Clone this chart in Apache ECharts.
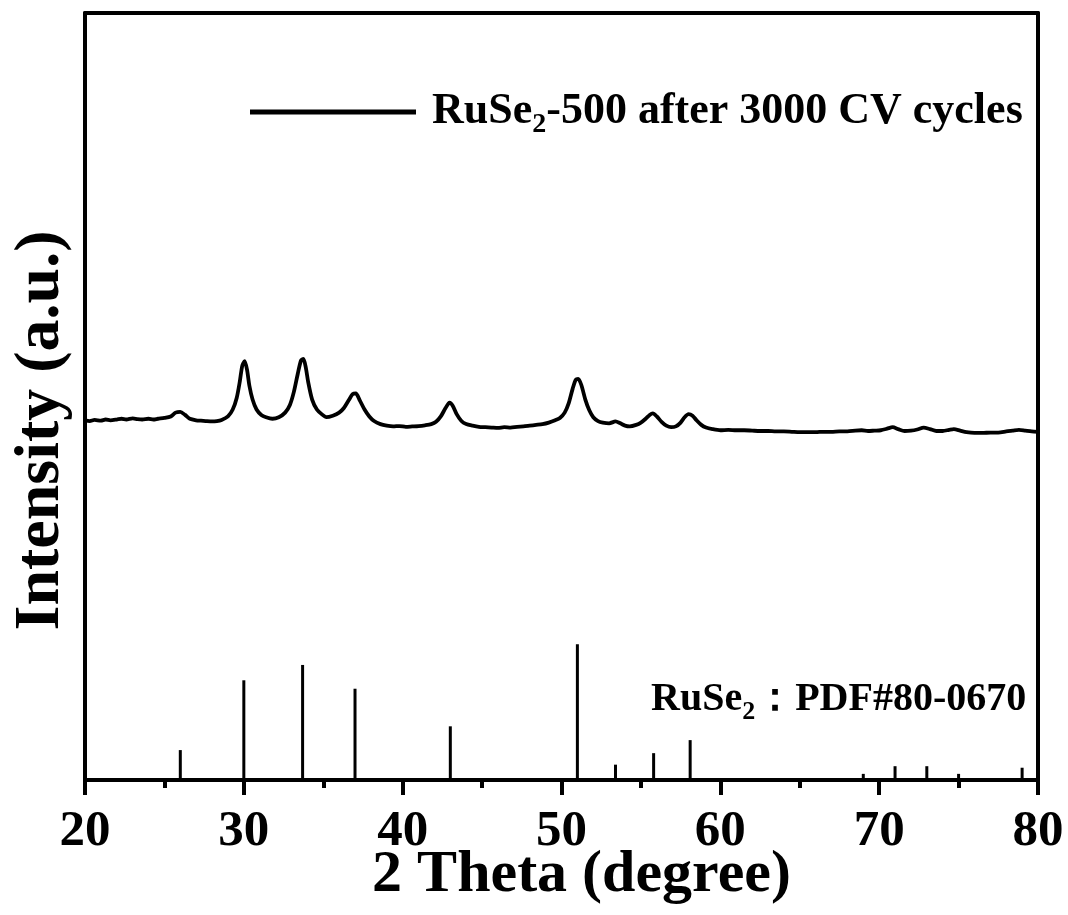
<!DOCTYPE html>
<html>
<head>
<meta charset="utf-8">
<script src="https://cdn.jsdelivr.net/npm/echarts@6/dist/echarts.min.js"></script>
<style>
html,body{margin:0;padding:0;background:#fff;}
#chart{width:1068px;height:915px;}
</style>
</head>
<body>
<div id="chart"></div>
<script>
// XRD pattern of RuSe2-500 after 3000 CV cycles: [2theta, intensity (a.u.)]
var xrdCurve = [
[20.0,46.9],[20.3,46.8],[20.6,46.95],[21.0,46.85],[21.3,47.0],[21.6,46.9],[22.0,47.0],[22.3,47.1],[22.6,47.0],[23.0,47.15],
[23.3,47.05],[23.6,47.0],[24.0,47.1],[24.3,47.0],[24.6,47.1],[25.0,47.2],[25.4,47.4],[25.7,47.9],[26.0,48.0],[26.3,47.6],
[26.6,47.1],[27.0,46.9],[27.3,46.85],[27.6,46.8],[28.0,46.75],[28.3,46.8],[28.6,46.95],[29.0,47.4],[29.3,48.3],[29.55,49.8],
[29.75,52.0],[29.9,54.0],[30.05,54.6],[30.2,53.5],[30.35,51.4],[30.55,49.6],[30.8,48.3],[31.1,47.6],[31.4,47.3],[31.8,47.1],
[32.2,47.3],[32.6,47.9],[32.9,48.9],[33.15,50.6],[33.4,53.0],[33.6,54.7],[33.75,54.9],[33.9,53.8],[34.05,51.9],[34.3,49.6],
[34.6,48.3],[34.9,47.7],[35.2,47.3],[35.6,47.5],[36.0,47.9],[36.3,48.5],[36.6,49.5],[36.85,50.3],[37.05,50.4],[37.3,49.5],
[37.6,48.3],[37.9,47.4],[38.2,46.8],[38.6,46.4],[39.0,46.2],[39.4,46.1],[39.8,46.15],[40.2,46.05],[40.6,46.1],[41.0,46.15],
[41.4,46.25],[41.8,46.4],[42.1,46.7],[42.4,47.4],[42.7,48.5],[42.95,49.2],[43.15,48.8],[43.4,47.7],[43.7,46.8],[44.0,46.4],
[44.4,46.2],[44.8,46.05],[45.2,46.0],[45.6,45.95],[46.0,45.9],[46.4,46.0],[46.8,45.95],[47.2,46.05],[47.6,46.1],[48.0,46.2],
[48.4,46.3],[48.8,46.4],[49.2,46.6],[49.6,46.9],[49.9,47.2],[50.2,47.9],[50.45,49.1],[50.7,51.0],[50.9,52.2],[51.05,52.3],
[51.25,51.5],[51.5,49.6],[51.75,48.2],[52.0,47.3],[52.3,46.8],[52.6,46.6],[53.0,46.5],[53.4,46.75],[53.7,46.5],[54.0,46.2],
[54.3,46.1],[54.7,46.3],[55.0,46.6],[55.3,47.1],[55.55,47.6],[55.75,47.8],[56.0,47.4],[56.3,46.7],[56.6,46.2],[56.9,46.0],
[57.2,46.1],[57.5,46.6],[57.75,47.3],[58.0,47.7],[58.25,47.5],[58.5,46.9],[58.8,46.3],[59.1,45.95],[59.5,45.75],[60.0,45.6],
[60.5,45.65],[61.0,45.6],[61.5,45.6],[62.0,45.55],[62.5,45.5],[63.0,45.5],[63.5,45.45],[64.0,45.45],[64.5,45.4],[65.0,45.35],
[65.5,45.35],[66.0,45.35],[66.5,45.4],[67.0,45.4],[67.5,45.45],[68.0,45.45],[68.5,45.55],[68.9,45.6],[69.3,45.5],[69.7,45.55],
[70.1,45.6],[70.5,45.8],[70.85,46.0],[71.2,45.75],[71.6,45.5],[72.0,45.55],[72.4,45.7],[72.8,45.95],[73.2,45.75],[73.6,45.5],
[74.0,45.5],[74.4,45.65],[74.7,45.75],[75.1,45.55],[75.5,45.35],[76.0,45.25],[76.5,45.25],[77.0,45.3],[77.5,45.3],[78.0,45.45],
[78.4,45.55],[78.8,45.65],[79.2,45.55],[79.6,45.45],[80.0,45.4]
];
// Standard pattern RuSe2 PDF#80-0670: [2theta, relative intensity]
var refPeaks = [
[26.0,3.9],[30.0,13.0],[33.7,15.0],[37.0,11.9],[43.0,7.0],[51.0,17.7],[53.4,2.0],[55.8,3.5],[58.1,5.2],
[69.0,0.8],[71.0,1.8],[73.0,1.8],[75.0,0.8],[79.0,1.6]
];
var xMin = 20, xMax = 80, xInterval = 10;
var yMin = 0, yMax = 100;
var seriesName = 'RuSe2-500 after 3000 CV cycles';
var xName = '2 Theta (degree)';
var yName = 'Intensity (a.u.)';

var FONT = '"Liberation Serif","Times New Roman",serif';
var chart = echarts.init(document.getElementById('chart'), null, {renderer:'canvas'});
var axisLineStyle = {color:'#000', width:4};
chart.setOption({
  backgroundColor:'#fff',
  animation:false,
  grid:{left:85, right:30, top:13, bottom:135, containLabel:false, outerBoundsMode:'none'},
  title:{
    text:'{a|RuSe}{s|2}{a|：PDF#80-0670}',
    left:651, top:675, padding:0,
    textStyle:{
      rich:{
        a:{fontFamily:FONT, fontWeight:'bold', fontSize:40, color:'#000'},
        s:{fontFamily:FONT, fontWeight:'bold', fontSize:26, color:'#000', padding:[24,0,0,0]}
      }
    }
  },
  legend:{
    left:250, top:90, padding:0,
    data:[{name:seriesName, icon:'rect'}],
    itemWidth:166, itemHeight:5,
    formatter:function(){ return '{a|RuSe}{s|2}{a|-500 after 3000 CV cycles}'; },
    textStyle:{
      padding:[0,0,0,11],
      rich:{
        a:{fontFamily:FONT, fontWeight:'bold', fontSize:44, color:'#000'},
        s:{fontFamily:FONT, fontWeight:'bold', fontSize:28, color:'#000', padding:[26,0,0,0]}
      }
    }
  },
  xAxis:[{
    type:'value', min:xMin, max:xMax, interval:xInterval, position:'bottom',
    name:xName, nameLocation:'middle', nameGap:65, nameMoveOverlap:false,
    nameTextStyle:{fontFamily:FONT, fontWeight:'bold', fontSize:60, color:'#000', padding:[0,0,0,40]},
    axisLine:{show:true, onZero:false, lineStyle:axisLineStyle},
    axisTick:{show:true, inside:false, length:15, lineStyle:{color:'#000', width:4}},
    minorTick:{show:true, splitNumber:2, length:8, lineStyle:{color:'#000', width:4}},
    axisLabel:{fontFamily:FONT, fontWeight:'bold', fontSize:51, color:'#000', margin:26},
    splitLine:{show:false}
  },{
    type:'value', min:xMin, max:xMax, position:'top',
    axisLine:{show:true, onZero:false, lineStyle:axisLineStyle},
    axisTick:{show:false}, axisLabel:{show:false}, splitLine:{show:false}
  }],
  yAxis:[{
    type:'value', min:yMin, max:yMax, position:'left',
    name:yName, nameLocation:'middle', nameGap:12, nameRotate:90, nameMoveOverlap:false,
    nameTextStyle:{fontFamily:FONT, fontWeight:'bold', fontSize:64, color:'#000', padding:[0,68,0,0]},
    axisLine:{show:true, onZero:false, lineStyle:axisLineStyle},
    axisTick:{show:false}, axisLabel:{show:false}, splitLine:{show:false}
  },{
    type:'value', min:yMin, max:yMax, position:'right',
    axisLine:{show:true, onZero:false, lineStyle:axisLineStyle},
    axisTick:{show:false}, axisLabel:{show:false}, splitLine:{show:false}
  }],
  series:[{
    name:seriesName, type:'line', data:xrdCurve, showSymbol:false, symbol:'none',
    smooth:0.25, lineStyle:{color:'#000', width:3.8}, itemStyle:{color:'#000'}
  },{
    name:'PDF', type:'bar', data:refPeaks, barWidth:3,
    itemStyle:{color:'#000'}
  }]
});
</script>
</body>
</html>
